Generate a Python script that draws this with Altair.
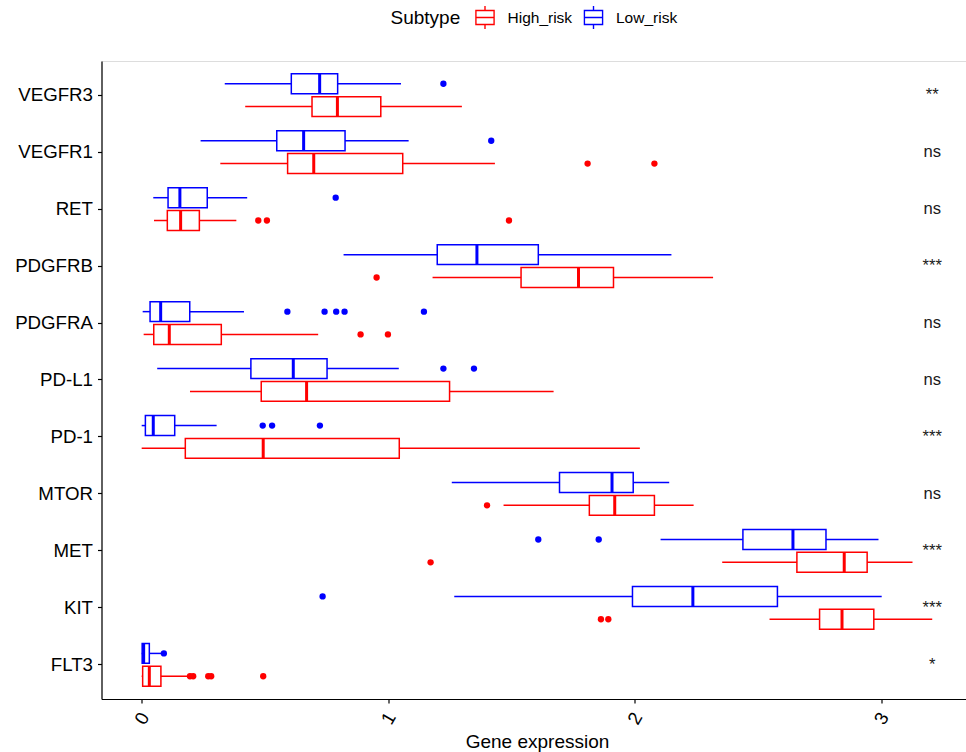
import altair as alt
import pandas as pd

genes = ["VEGFR3", "VEGFR1", "RET", "PDGFRB", "PDGFRA", "PD-L1", "PD-1", "MTOR", "MET", "KIT", "FLT3"]
subtypes = ["High_risk", "Low_risk"]
colors = ["#FF0000", "#0000FF"]

# Low_risk box statistics (per gene, same order as genes)
low_lo  = [0.337, 0.239, 0.047, 0.819, 0.004, 0.063, 0.000, 1.258, 2.105, 1.268, 0.000]
low_q1  = [0.607, 0.548, 0.107, 1.199, 0.034, 0.443, 0.015, 1.695, 2.439, 1.991, 0.002]
low_med = [0.722, 0.657, 0.155, 1.360, 0.077, 0.615, 0.047, 1.908, 2.642, 2.236, 0.008]
low_q3  = [0.795, 0.825, 0.266, 1.609, 0.195, 0.752, 0.134, 1.994, 2.776, 2.579, 0.031]
low_hi  = [1.052, 1.083, 0.428, 2.149, 0.415, 1.043, 0.304, 2.140, 2.989, 3.002, 0.080]

# High_risk box statistics
high_lo  = [0.420, 0.319, 0.050, 1.180, 0.008, 0.196, 0.000, 1.468, 2.355, 2.547, 0.000]
high_q1  = [0.691, 0.592, 0.104, 1.539, 0.049, 0.485, 0.177, 1.816, 2.658, 2.750, 0.004]
high_med = [0.794, 0.698, 0.158, 1.772, 0.112, 0.669, 0.493, 1.919, 2.850, 2.841, 0.031]
high_q3  = [0.970, 1.059, 0.234, 1.914, 0.323, 1.249, 1.045, 2.080, 2.943, 2.970, 0.078]
high_hi  = [1.299, 1.433, 0.384, 2.318, 0.716, 1.671, 2.021, 2.239, 3.127, 3.207, 0.185]

# Outliers
out_gene = ["VEGFR3", "VEGFR1", "VEGFR1", "VEGFR1", "RET", "RET", "RET", "RET",
            "PDGFRB", "PDGFRA", "PDGFRA", "PDGFRA", "PDGFRA", "PDGFRA", "PDGFRA", "PDGFRA",
            "PD-L1", "PD-L1", "PD-1", "PD-1", "PD-1", "MTOR", "MET", "MET", "MET",
            "KIT", "KIT", "KIT", "FLT3", "FLT3", "FLT3", "FLT3", "FLT3", "FLT3"]
out_sub = ["Low_risk", "Low_risk", "High_risk", "High_risk", "Low_risk", "High_risk", "High_risk", "High_risk",
           "High_risk", "Low_risk", "Low_risk", "Low_risk", "Low_risk", "Low_risk", "High_risk", "High_risk",
           "Low_risk", "Low_risk", "Low_risk", "Low_risk", "Low_risk", "High_risk", "Low_risk", "Low_risk", "High_risk",
           "Low_risk", "High_risk", "High_risk", "Low_risk", "High_risk", "High_risk", "High_risk", "High_risk", "High_risk"]
out_val = [1.224, 1.418, 1.809, 2.080, 0.787, 0.473, 0.508, 1.490,
           0.953, 0.591, 0.742, 0.789, 0.823, 1.145, 0.888, 0.999,
           1.224, 1.348, 0.491, 0.529, 0.723, 1.401, 1.609, 1.854, 1.172,
           0.734, 1.863, 1.893, 0.090, 0.196, 0.209, 0.270, 0.282, 0.493]

# Significance labels
sig_labels = ["**", "ns", "ns", "***", "ns", "ns", "***", "ns", "***", "***", "*"]
sig_x = 3.207

stats = pd.DataFrame({
    "gene": genes * 2,
    "subtype": ["Low_risk"] * len(genes) + ["High_risk"] * len(genes),
    "lo": low_lo + high_lo,
    "q1": low_q1 + high_q1,
    "med": low_med + high_med,
    "q3": low_q3 + high_q3,
    "hi": low_hi + high_hi,
})
outs = pd.DataFrame({"gene": out_gene, "subtype": out_sub, "value": out_val})
sig = pd.DataFrame({"gene": genes, "label": sig_labels, "x": [sig_x] * len(genes)})

FONT = "Liberation Sans"
LW = 1.5
xscale = alt.Scale(domain=[-0.163, 3.344], zero=False, nice=False)
yenc = alt.Y("gene:N", sort=genes, title=None,
             scale=alt.Scale(paddingInner=0, paddingOuter=0.1),
             axis=alt.Axis(labelFontSize=18.7, labelColor="black", labelFont=FONT,
                           domainColor="black", domainWidth=1.2, tickColor="black",
                           tickWidth=1.2, tickSize=4, labelPadding=5, grid=False))
yoff = alt.YOffset("subtype:N", sort=["Low_risk", "High_risk"],
                   scale=alt.Scale(paddingInner=0.127, paddingOuter=0.3125))
cscale = alt.Scale(domain=subtypes, range=colors)
col = alt.Color("subtype:N", scale=cscale, legend=None)
xaxis = alt.Axis(values=[0, 1, 2, 3], format="d", labelAngle=300, labelAlign="center",
                 labelBaseline="middle", labelFontSize=18.7, labelColor="black", labelFont=FONT,
                 labelPadding=15, tickSize=4, tickColor="black", tickWidth=1.2,
                 domainColor="black", domainWidth=1.2, grid=False,
                 title="Gene expression", titleFontSize=19, titleFont=FONT,
                 titleFontWeight="normal", titleColor="black", titleX=435.5, titleY=48,
                 titleBaseline="alphabetic", titleAlign="center", titleAnchor="start")

# boxplot glyph drawn as filled outline (frame + median + whiskers)
legend_path = ("M-0.85,-0.67H0.85V0.67H-0.85Z "
               "M-0.73,-0.55V0.55H0.73V-0.55Z "
               "M-0.73,-0.06H0.73V0.06H-0.73Z "
               "M-0.06,-1H0.06V-0.67H-0.06Z "
               "M-0.06,0.67H0.06V1H-0.06Z")
legend = alt.Legend(title="Subtype", orient="none", legendX=289, legendY=-55,
                    direction="horizontal", titleOrient="left",
                    titleFontSize=19, titleFont=FONT, titleFontWeight="normal",
                    titleColor="black", titleBaseline="middle", titlePadding=13,
                    labelFontSize=15.5, labelFont=FONT, labelColor="black",
                    labelOffset=11, columnPadding=9.5,
                    symbolType=legend_path, symbolSize=529, symbolStrokeWidth=0)

whisk_lo = alt.Chart(stats).mark_rule(strokeWidth=LW).encode(
    x=alt.X("lo:Q", scale=xscale, axis=xaxis), x2="q1:Q", y=yenc, yOffset=yoff,
    color=alt.Color("subtype:N", scale=cscale, legend=legend))
whisk_hi = alt.Chart(stats).mark_rule(strokeWidth=LW).encode(
    x=alt.X("q3:Q", scale=xscale), x2="hi:Q", y=yenc, yOffset=yoff, color=col)

box = alt.Chart(stats).mark_bar(filled=False, strokeWidth=LW, opacity=1).encode(
    x=alt.X("q1:Q", scale=xscale), x2="q3:Q", y=yenc, yOffset=yoff, color=col)

med = alt.Chart(stats).mark_tick(thickness=3, size=20, opacity=1).encode(
    x=alt.X("med:Q", scale=xscale), y=yenc, yOffset=yoff, color=col)

pts = alt.Chart(outs).mark_circle(size=40, opacity=1).encode(
    x=alt.X("value:Q", scale=xscale), y=yenc, yOffset=yoff, color=col)

txt = alt.Chart(sig).mark_text(fontSize=16.6, font=FONT, color="#1a1a1a", baseline="middle").encode(
    x=alt.X("x:Q", scale=xscale), y=yenc, text="label:N")

chart = alt.layer(whisk_lo, whisk_hi, box, med, pts, txt).properties(
    width=864.5, height=638,
    padding={"left": 101.5, "top": 61, "right": 0, "bottom": 53},
    autosize=alt.AutoSizeParams(type="none"),
).configure_view(strokeWidth=0).configure(font=FONT, background="white")

chart.save("out.html", embed_options={"renderer": "svg", "actions": False})
